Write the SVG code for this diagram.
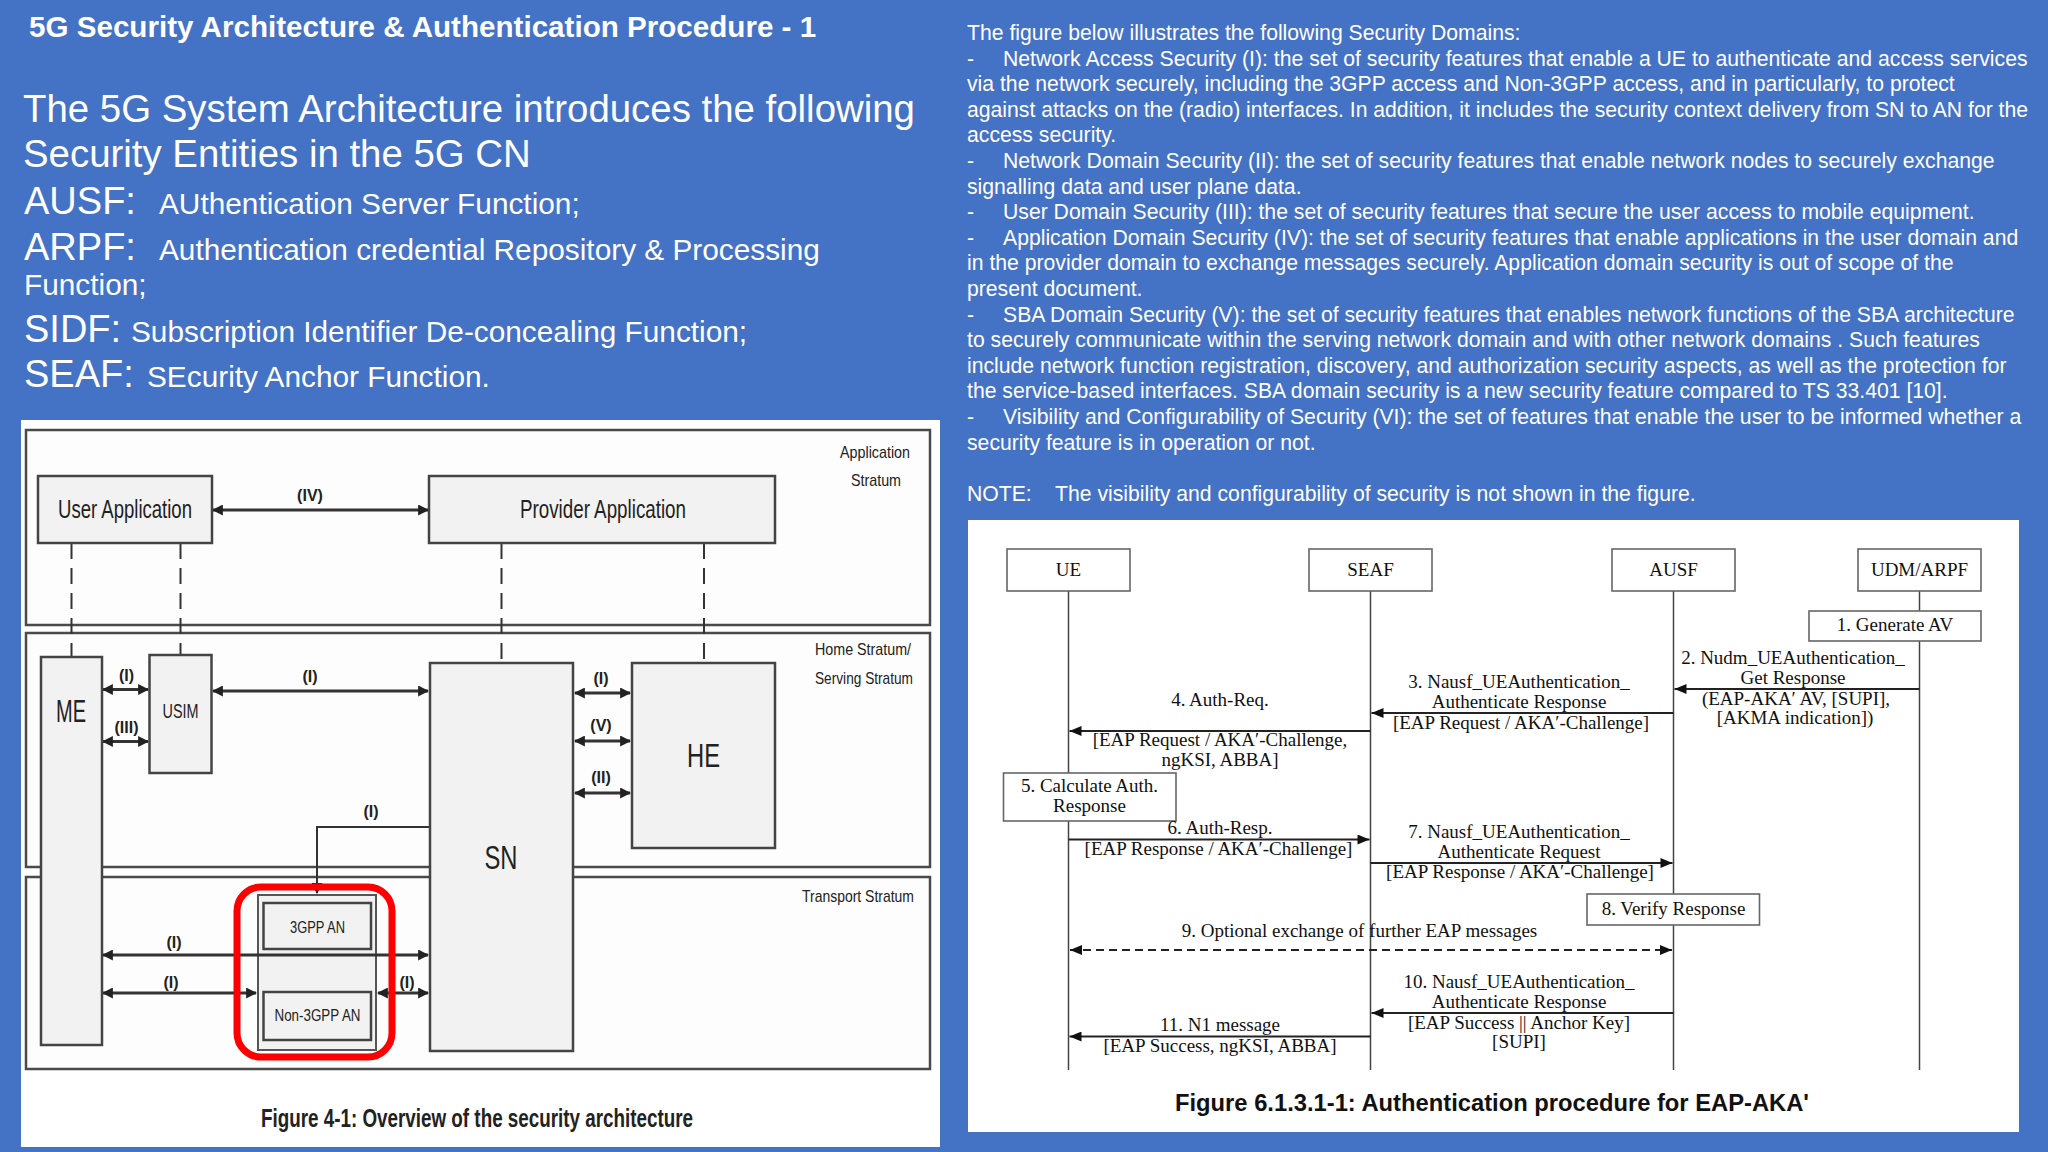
<svg xmlns="http://www.w3.org/2000/svg" width="2048" height="1152" viewBox="0 0 2048 1152">
<defs>
<style>
.w{fill:#ffffff;font-family:"Liberation Sans",Arial,sans-serif}
.t{font-family:"Liberation Sans",Arial,sans-serif;font-size:21.2px;fill:#ffffff}
.nar{font-family:"Liberation Sans Narrow","Liberation Sans",Arial,sans-serif;fill:#222;text-anchor:middle}
.ser{font-family:"Liberation Serif","Times New Roman",serif;font-size:19px;fill:#111;text-anchor:middle}
.box{fill:#f2f2f2;stroke:#444;stroke-width:2.5}
.strat{fill:#fdfdfd;stroke:#4a4a4a;stroke-width:2.5}
.dash{stroke:#333;stroke-width:2;stroke-dasharray:16 9;fill:none}
.arr{stroke:#333;stroke-width:3;fill:none;marker-start:url(#ah);marker-end:url(#ah)}
.sbox{fill:#ffffff;stroke:#666;stroke-width:1.6}
.life{stroke:#444;stroke-width:1.5}
.msg{stroke:#222;stroke-width:2;fill:none;marker-end:url(#sh)}
</style>
<marker id="ah" viewBox="0 0 10 10" refX="9" refY="5" markerWidth="11" markerHeight="11" markerUnits="userSpaceOnUse" orient="auto-start-reverse"><path d="M0,0 L10,5 L0,10 z" fill="#222"/></marker>
<marker id="sh" viewBox="0 0 12 10" refX="12" refY="5" markerWidth="14" markerHeight="10" markerUnits="userSpaceOnUse" orient="auto-start-reverse"><path d="M0,0 L12,5 L0,10 z" fill="#111"/></marker>
</defs>
<rect x="0" y="0" width="2048" height="1152" fill="#4472c4"/>

<!-- Left slide text -->
<g id="title">
<text class="w" x="29" y="37" font-size="29.6" font-weight="bold">5G Security Architecture &amp; Authentication Procedure - 1</text>
</g>
<g id="left-text" class="w">
<text x="23" y="122" font-size="38.4">The 5G System Architecture introduces the following</text>
<text x="23" y="166.5" font-size="38.4">Security Entities in the 5G CN</text>
<text x="24" y="214" font-size="38">AUSF:<tspan x="159" font-size="29.8">AUthentication Server Function;</tspan></text>
<text x="24" y="260" font-size="38">ARPF:<tspan x="159" font-size="29.8">Authentication credential Repository &amp; Processing</tspan></text>
<text x="24" y="295" font-size="29.8">Function;</text>
<text x="24" y="342" font-size="38">SIDF:<tspan x="131" font-size="29.8">Subscription Identifier De-concealing Function;</tspan></text>
<text x="24" y="387" font-size="38">SEAF:<tspan x="147" font-size="29.8">SEcurity Anchor Function.</tspan></text>
</g>

<!-- Right slide text -->
<g id="right-text" class="t">
<text x="967" y="40">The figure below illustrates the following Security Domains:</text>
<text x="967" y="65.6">-<tspan x="1003">Network Access Security (I): the set of security features that enable a UE to authenticate and access services</tspan></text>
<text x="967" y="91.2">via the network securely, including the 3GPP access and Non-3GPP access, and in particularly, to protect</text>
<text x="967" y="116.8">against attacks on the (radio) interfaces. In addition, it includes the security context delivery from SN to AN for the</text>
<text x="967" y="142.4">access security.</text>
<text x="967" y="168">-<tspan x="1003">Network Domain Security (II): the set of security features that enable network nodes to securely exchange</tspan></text>
<text x="967" y="193.6">signalling data and user plane data.</text>
<text x="967" y="219.2">-<tspan x="1003">User Domain Security (III): the set of security features that secure the user access to mobile equipment.</tspan></text>
<text x="967" y="244.8">-<tspan x="1003">Application Domain Security (IV): the set of security features that enable applications in the user domain and</tspan></text>
<text x="967" y="270.4">in the provider domain to exchange messages securely. Application domain security is out of scope of the</text>
<text x="967" y="296">present document.</text>
<text x="967" y="321.6">-<tspan x="1003">SBA Domain Security (V): the set of security features that enables network functions of the SBA architecture</tspan></text>
<text x="967" y="347.2">to securely communicate within the serving network domain and with other network domains . Such features</text>
<text x="967" y="372.8">include network function registration, discovery, and authorization security aspects, as well as the protection for</text>
<text x="967" y="398.4">the service-based interfaces. SBA domain security is a new security feature compared to TS 33.401 [10].</text>
<text x="967" y="424">-<tspan x="1003">Visibility and Configurability of Security (VI): the set of features that enable the user to be informed whether a</tspan></text>
<text x="967" y="449.6">security feature is in operation or not.</text>
<text x="967" y="501">NOTE:<tspan x="1055">The visibility and configurability of security is not shown in the figure.</tspan></text>
</g>

<!-- Left figure: security architecture -->
<rect x="21" y="420" width="919" height="727" fill="#ffffff"/>
<g id="application-stratum">
<rect class="strat" x="26" y="430" width="904" height="195"/>
<text class="nar" x="875" y="458" font-size="17" textLength="70" lengthAdjust="spacingAndGlyphs">Application</text>
<text class="nar" x="876" y="486" font-size="17" textLength="50" lengthAdjust="spacingAndGlyphs">Stratum</text>
</g>
<g id="home-stratum">
<rect class="strat" x="26" y="633" width="904" height="234"/>
<text class="nar" x="863" y="655" font-size="17" textLength="96" lengthAdjust="spacingAndGlyphs">Home Stratum/</text>
<text class="nar" x="864" y="684" font-size="17" textLength="98" lengthAdjust="spacingAndGlyphs">Serving Stratum</text>
</g>
<g id="transport-stratum">
<rect class="strat" x="26" y="877" width="904" height="192"/>
<text class="nar" x="858" y="902" font-size="17" textLength="112" lengthAdjust="spacingAndGlyphs">Transport Stratum</text>
</g>

<g id="connectors-arch">
<line class="dash" x1="71.5" y1="543" x2="71.5" y2="657"/>
<line class="dash" x1="180.5" y1="543" x2="180.5" y2="655"/>
<line class="dash" x1="501.5" y1="543" x2="501.5" y2="663"/>
<line class="dash" x1="704" y1="543" x2="704" y2="663"/>
<line class="arr" x1="213" y1="510" x2="428" y2="510"/>
<line class="arr" x1="103" y1="689.5" x2="148" y2="689.5"/>
<line class="arr" x1="103" y1="741.5" x2="148" y2="741.5"/>
<line class="arr" x1="213" y1="691" x2="428" y2="691"/>
<line class="arr" x1="575" y1="693" x2="630" y2="693"/>
<line class="arr" x1="575" y1="741" x2="630" y2="741"/>
<line class="arr" x1="575" y1="793" x2="630" y2="793"/>
<polyline points="430,827 317,827 317,893" fill="none" stroke="#333" stroke-width="2" marker-end="url(#ah)"/>
<line class="arr" x1="103" y1="993" x2="256" y2="993"/>
<line class="arr" x1="378" y1="993" x2="428" y2="993"/>
<g class="nar" font-size="16" font-weight="bold" fill="#333">
<text x="310" y="501">(IV)</text>
<text x="126.5" y="681">(I)</text>
<text x="126.5" y="733">(III)</text>
<text x="310" y="682">(I)</text>
<text x="601" y="684">(I)</text>
<text x="601" y="731">(V)</text>
<text x="601" y="783">(II)</text>
<text x="371" y="817">(I)</text>
<text x="174" y="948">(I)</text>
<text x="171" y="988">(I)</text>
<text x="407" y="988">(I)</text>
</g>
</g>

<g id="user-application">
<rect class="box" x="38" y="476" width="174" height="67"/>
<text class="nar" x="125" y="518" font-size="25" textLength="134" lengthAdjust="spacingAndGlyphs">User Application</text>
</g>
<g id="provider-application">
<rect class="box" x="429" y="476" width="346" height="67"/>
<text class="nar" x="603" y="518" font-size="25" textLength="166" lengthAdjust="spacingAndGlyphs">Provider Application</text>
</g>
<g id="me">
<rect class="box" x="41" y="657" width="61" height="388"/>
<text class="nar" x="71" y="722" font-size="32" textLength="30" lengthAdjust="spacingAndGlyphs">ME</text>
</g>
<g id="usim">
<rect class="box" x="149.5" y="655" width="62" height="118"/>
<text class="nar" x="180.5" y="718" font-size="20" textLength="36" lengthAdjust="spacingAndGlyphs">USIM</text>
</g>
<g id="sn">
<rect class="box" x="430" y="663" width="143" height="388"/>
<text class="nar" x="501" y="869" font-size="34" textLength="33" lengthAdjust="spacingAndGlyphs">SN</text>
</g>
<g id="he">
<rect class="box" x="632" y="663" width="143" height="185"/>
<text class="nar" x="703.5" y="767" font-size="34" textLength="33" lengthAdjust="spacingAndGlyphs">HE</text>
</g>
<g id="access-network">
<rect x="258" y="895" width="118" height="155" fill="#f2f2f2" stroke="#555" stroke-width="2"/>
<rect class="box" x="263.5" y="903" width="107.5" height="46"/>
<text class="nar" x="317.5" y="933" font-size="17" textLength="55" lengthAdjust="spacingAndGlyphs">3GPP AN</text>
<rect class="box" x="263.5" y="992" width="107.5" height="48"/>
<text class="nar" x="317.5" y="1021" font-size="17" textLength="86" lengthAdjust="spacingAndGlyphs">Non-3GPP AN</text>
</g>
<line class="arr" x1="103" y1="955" x2="428" y2="955"/>
<rect id="highlight" x="237" y="887" width="155" height="170" rx="24" fill="none" stroke="#ff0000" stroke-width="7"/>
<text class="nar" x="477" y="1127" font-size="25" font-weight="bold" textLength="432" lengthAdjust="spacingAndGlyphs">Figure 4-1: Overview of the security architecture</text>

<!-- Right figure: sequence diagram -->
<rect x="968" y="520" width="1051" height="612" fill="#ffffff"/>
<g id="lifelines">
<line class="life" x1="1068.5" y1="591" x2="1068.5" y2="1070"/>
<line class="life" x1="1370.5" y1="591" x2="1370.5" y2="1070"/>
<line class="life" x1="1673.5" y1="591" x2="1673.5" y2="1070"/>
<line class="life" x1="1919.5" y1="591" x2="1919.5" y2="1070"/>
</g>
<g id="ue"><rect class="sbox" x="1007" y="549" width="123" height="42"/><text class="ser" x="1068.5" y="576">UE</text></g>
<g id="seaf"><rect class="sbox" x="1309" y="549" width="123" height="42"/><text class="ser" x="1370.5" y="576">SEAF</text></g>
<g id="ausf"><rect class="sbox" x="1612" y="549" width="123" height="42"/><text class="ser" x="1673.5" y="576">AUSF</text></g>
<g id="udm-arpf"><rect class="sbox" x="1858" y="549" width="123" height="42"/><text class="ser" x="1919.5" y="576">UDM/ARPF</text></g>
<g id="step1"><rect class="sbox" x="1809" y="611" width="172" height="30"/><text class="ser" x="1895" y="631">1. Generate AV</text></g>
<g id="step5"><rect class="sbox" x="1003.5" y="773" width="172.5" height="48"/><text class="ser" x="1089.5" y="792">5. Calculate Auth.</text><text class="ser" x="1089.5" y="812">Response</text></g>
<g id="step8"><rect class="sbox" x="1587" y="894" width="172.5" height="31"/><text class="ser" x="1673.5" y="915">8. Verify Response</text></g>

<g id="messages">
<line class="msg" x1="1919.5" y1="689" x2="1674.5" y2="689"/>
<line class="msg" x1="1673.5" y1="713" x2="1371.5" y2="713"/>
<line class="msg" x1="1370.5" y1="731" x2="1069.5" y2="731"/>
<line class="msg" x1="1068.5" y1="839.5" x2="1369.5" y2="839.5"/>
<line class="msg" x1="1370.5" y1="863" x2="1672.5" y2="863"/>
<line x1="1070" y1="950" x2="1672" y2="950" stroke="#222" stroke-width="2" stroke-dasharray="8 5" marker-start="url(#sh)" marker-end="url(#sh)"/>
<line class="msg" x1="1673.5" y1="1013" x2="1371.5" y2="1013"/>
<line class="msg" x1="1370.5" y1="1036.5" x2="1069.5" y2="1036.5"/>
<g class="ser">
<text x="1793" y="664">2. Nudm_UEAuthentication_</text>
<text x="1793" y="684">Get Response</text>
<text x="1796" y="705">(EAP-AKA′ AV, [SUPI],</text>
<text x="1795" y="724">[AKMA indication])</text>
<text x="1519" y="688">3. Nausf_UEAuthentication_</text>
<text x="1519" y="708">Authenticate Response</text>
<text x="1521" y="729">[EAP Request / AKA′-Challenge]</text>
<text x="1220" y="706">4. Auth-Req.</text>
<text x="1220" y="746">[EAP Request / AKA′-Challenge,</text>
<text x="1220" y="766">ngKSI, ABBA]</text>
<text x="1220" y="834">6. Auth-Resp.</text>
<text x="1218.5" y="855">[EAP Response / AKA′-Challenge]</text>
<text x="1519" y="838">7. Nausf_UEAuthentication_</text>
<text x="1519" y="858">Authenticate Request</text>
<text x="1520" y="878">[EAP Response / AKA′-Challenge]</text>
<text x="1359.5" y="937">9. Optional exchange of further EAP messages</text>
<text x="1519" y="988">10. Nausf_UEAuthentication_</text>
<text x="1519" y="1008">Authenticate Response</text>
<text x="1519" y="1029">[EAP Success || Anchor Key]</text>
<text x="1519" y="1048">[SUPI]</text>
<text x="1220" y="1031">11. N1 message</text>
<text x="1220" y="1052">[EAP Success, ngKSI, ABBA]</text>
</g>
</g>
<text x="1492" y="1111" font-family="Liberation Sans Narrow,Liberation Sans,Arial,sans-serif" font-size="23" font-weight="bold" fill="#111" text-anchor="middle" textLength="634" lengthAdjust="spacingAndGlyphs">Figure 6.1.3.1-1: Authentication procedure for EAP-AKA'</text>
</svg>
